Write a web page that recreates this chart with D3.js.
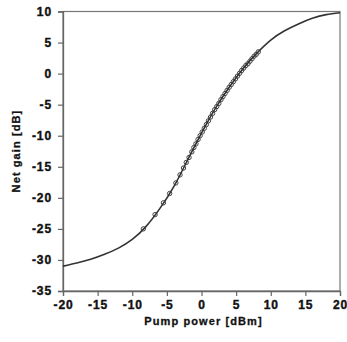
<!DOCTYPE html>
<html>
<head>
<meta charset="utf-8">
<title>Net gain vs pump power</title>
<script src="https://d3js.org/d3.v7.min.js"></script>
<style>
  body { margin: 0; background: #fff; }
</style>
</head>
<body>
<script>
// fitted curve
var curveX = [-20, -18, -16, -14, -12, -10, -8, -6, -4, -2, 0, 2, 4, 6, 8, 10, 12, 14, 16, 18, 20];
var curveY = [-31.0, -30.5, -29.9, -29.1, -28.1, -26.7, -24.6, -21.7, -18.2, -13.9, -9.6, -5.6, -2.2, 0.8, 3.3, 5.4, 6.9, 8.0, 8.9, 9.5, 9.8];

// measured points (open circles)
var measX = [-8.4, -6.7, -5.5, -4.6, -3.7, -3.1, -2.6, -2.2, -1.8, -1.4, -1.1, -0.8, -0.5, -0.2, 0.1, 0.4, 0.7, 1.0, 1.3, 1.6, 1.9,
             2.2, 2.5, 2.8, 3.1, 3.4, 3.7, 4.0, 4.3, 4.6, 4.9, 5.2, 5.5, 5.8, 6.1, 6.4, 6.7, 7.0, 7.3, 7.6, 7.9, 8.2];
var measY = [-25.0, -22.7, -20.8, -19.3, -17.6, -16.3, -15.2, -14.3, -13.5, -12.6, -11.9, -11.3, -10.6, -10.0, -9.4, -8.8, -8.2, -7.6, -7.0, -6.4, -5.8,
             -5.3, -4.8, -4.2, -3.7, -3.2, -2.7, -2.2, -1.75, -1.3, -0.85, -0.4, 0.05, 0.5, 0.9, 1.3, 1.6, 2.0, 2.4, 2.8, 3.1, 3.5];

var xTicks = [-20, -15, -10, -5, 0, 5, 10, 15, 20];
var yTicks = [10, 5, 0, -5, -10, -15, -20, -25, -30, -35];

var width = 347, height = 342;
var margin = {top: 11.5, right: 7, bottom: 51, left: 63};
var font = "'Liberation Sans', Arial, sans-serif";

var svg = d3.select("body").append("svg")
    .attr("width", width)
    .attr("height", height);

var x = d3.scaleLinear().domain([-20, 20]).range([margin.left, width - margin.right]);
var y = d3.scaleLinear().domain([-35, 10]).range([height - margin.bottom, margin.top]);

// frame (top + right)
svg.append("rect")
    .attr("x", x(-20)).attr("y", y(10))
    .attr("width", x(20) - x(-20)).attr("height", y(-35) - y(10))
    .attr("fill", "none").attr("stroke", "#777").attr("stroke-width", 1.2);

var fmt = function(d) { return String(d); };   // plain hyphen minus like the original
var xAxis = svg.append("g")
    .attr("transform", "translate(0," + y(-35) + ")")
    .call(d3.axisBottom(x).tickValues(xTicks).tickFormat(fmt).tickSize(5).tickPadding(4));
var yAxis = svg.append("g")
    .attr("transform", "translate(" + x(-20) + ",0)")
    .call(d3.axisLeft(y).tickValues(yTicks).tickFormat(fmt).tickSize(5).tickPadding(6));

[xAxis, yAxis].forEach(function(a) {
    a.select(".domain").attr("stroke", "#666").attr("stroke-width", 1.3);
    a.selectAll(".tick line").attr("stroke", "#666").attr("stroke-width", 1.2);
    a.selectAll(".tick text")
        .attr("font-family", font).attr("font-weight", "bold")
        .attr("font-size", 12).attr("letter-spacing", 0.9)
        .attr("fill", "#111").attr("stroke", "#111").attr("stroke-width", 0.4);
});

var pts = measX.map(function(d, i) { return [d, measY[i]]; });
svg.append("g").selectAll("circle")
    .data(pts)
    .enter().append("circle")
    .attr("cx", function(d) { return x(d[0]); })
    .attr("cy", function(d) { return y(d[1]); })
    .attr("r", 2.2)
    .attr("fill", "none")
    .attr("stroke", "#444")
    .attr("stroke-width", 1);

var line = d3.line()
    .x(function(d) { return x(d[0]); })
    .y(function(d) { return y(d[1]); })
    .curve(d3.curveNatural);

svg.append("path")
    .datum(curveX.map(function(d, i) { return [d, curveY[i]]; }))
    .attr("d", line)
    .attr("fill", "none")
    .attr("stroke", "#333")
    .attr("stroke-width", 1.6);

svg.append("text")
    .attr("x", x(0) + 2).attr("y", 325)
    .attr("text-anchor", "middle")
    .attr("font-family", font).attr("font-weight", "bold")
    .attr("font-size", 11).attr("letter-spacing", 1.1)
    .attr("fill", "#111").attr("stroke", "#111").attr("stroke-width", 0.3)
    .text("Pump power [dBm]");

svg.append("text")
    .attr("transform", "translate(20,151) rotate(-90)")
    .attr("text-anchor", "middle")
    .attr("font-family", font).attr("font-weight", "bold")
    .attr("font-size", 11).attr("letter-spacing", 1.1)
    .attr("fill", "#111").attr("stroke", "#111").attr("stroke-width", 0.3)
    .text("Net gain [dB]");
</script>
</body>
</html>
